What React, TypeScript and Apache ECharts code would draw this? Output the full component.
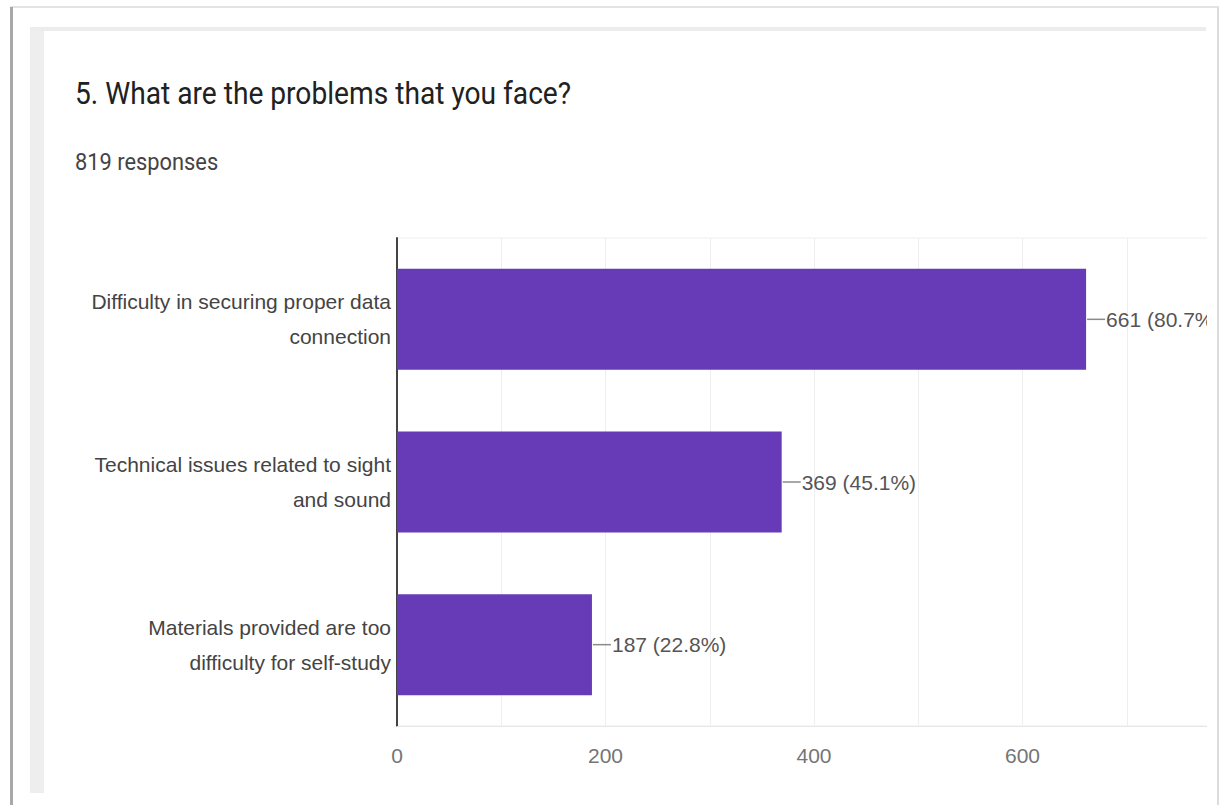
import React, { useEffect, useRef } from 'react';
import * as echarts from 'echarts';

const TITLE = '5. What are the problems that you face?';
const TOTAL_RESPONSES = 819;
const SUBTITLE = `${TOTAL_RESPONSES} responses`;
const categories = [
  'Difficulty in securing proper data\nconnection',
  'Technical issues related to sight\nand sound',
  'Materials provided are too\ndifficulty for self-study',
];
const counts = [661, 369, 187];
const xTickLabels = [0, 200, 400, 600];

const SANS = "'Liberation Sans', Arial, sans-serif";

export default function App() {
  const ref = useRef<HTMLDivElement>(null);
  useEffect(() => {
    if (!ref.current) return;
    const chart = echarts.init(ref.current, undefined, { renderer: 'svg' });
    chart.setOption({
      animation: false,
      backgroundColor: '#ffffff',
      grid: {
        left: 397,
        top: 238,
        width: 834,
        height: 488,
        show: true,
        borderColor: '#eeeeee',
        borderWidth: 1,
        backgroundColor: 'transparent',
        outerBoundsMode: 'none',
        containLabel: false,
      },
      xAxis: {
        type: 'value',
        min: 0,
        max: 800,
        interval: 100,
        axisLine: { show: true, lineStyle: { color: '#e6e6e6', width: 1 } },
        axisTick: { show: false },
        splitLine: { show: true, lineStyle: { color: '#eeeeee', width: 1 } },
        axisLabel: {
          formatter: (v: number) => (xTickLabels.includes(v) ? String(v) : ''),
          color: '#757575',
          fontSize: 21,
          fontFamily: SANS,
          margin: 19,
          showMaxLabel: false,
        },
      },
      yAxis: {
        type: 'category',
        data: categories,
        inverse: true,
        axisLine: { show: true, lineStyle: { color: '#444444', width: 2 } },
        axisTick: { show: false },
        splitLine: { show: false },
        axisLabel: {
          color: '#444444',
          fontSize: 21,
          lineHeight: 35,
          fontFamily: SANS,
          margin: 6,
          align: 'right',
        },
      },
      series: [
        {
          type: 'bar',
          data: counts,
          barWidth: 101,
          itemStyle: { color: '#673ab7' },
          label: {
            show: true,
            position: 'right',
            distance: 1,
            formatter: (p: any) =>
              `{line| }{val|${p.value} (${((p.value / TOTAL_RESPONSES) * 100).toFixed(1)}%)}`,
            rich: {
              line: { width: 18, height: 1.5, backgroundColor: '#8a8a8a' },
              val: {
                fontSize: 21,
                fontFamily: SANS,
                color: '#555555',
                padding: [0, 0, 0, 1],
              },
            },
          },
        },
      ],
      graphic: [
        { type: 'rect', z: 100, shape: { x: 1207, y: 31, width: 14, height: 774 }, style: { fill: '#ffffff' } },
        { type: 'line', z: 101, shape: { x1: 10, y1: 7, x2: 1219, y2: 7 }, style: { stroke: '#e3e3e3', lineWidth: 2 } },
        { type: 'rect', z: 101, shape: { x: 10, y: 7, width: 3, height: 798 }, style: { fill: '#a8a8a8' } },
        { type: 'rect', z: 101, shape: { x: 1217, y: 7, width: 2, height: 798 }, style: { fill: '#dcdcdc' } },
        { type: 'rect', z: 101, shape: { x: 30, y: 27, width: 14, height: 766 }, style: { fill: '#eeeeee' } },
        { type: 'rect', z: 101, shape: { x: 30, y: 27, width: 1176, height: 4 }, style: { fill: '#ececec' } },
        {
          type: 'text',
          z: 101,
          x: 75,
          y: 93,
          scaleX: 0.88,
          style: {
            text: TITLE,
            fontSize: 32,
            fontFamily: 'Roboto',
            fill: '#212121',
            verticalAlign: 'middle',
          },
        },
        {
          type: 'text',
          z: 101,
          x: 75,
          y: 162,
          scaleX: 0.91,
          style: {
            text: SUBTITLE,
            fontSize: 24,
            fontFamily: 'Roboto',
            fill: '#444444',
            verticalAlign: 'middle',
          },
        },
      ],
    });
    return () => chart.dispose();
  }, []);
  return (
    <div
      ref={ref}
      style={{ position: 'fixed', left: 0, top: 0, width: 1221, height: 805 }}
    />
  );
}
